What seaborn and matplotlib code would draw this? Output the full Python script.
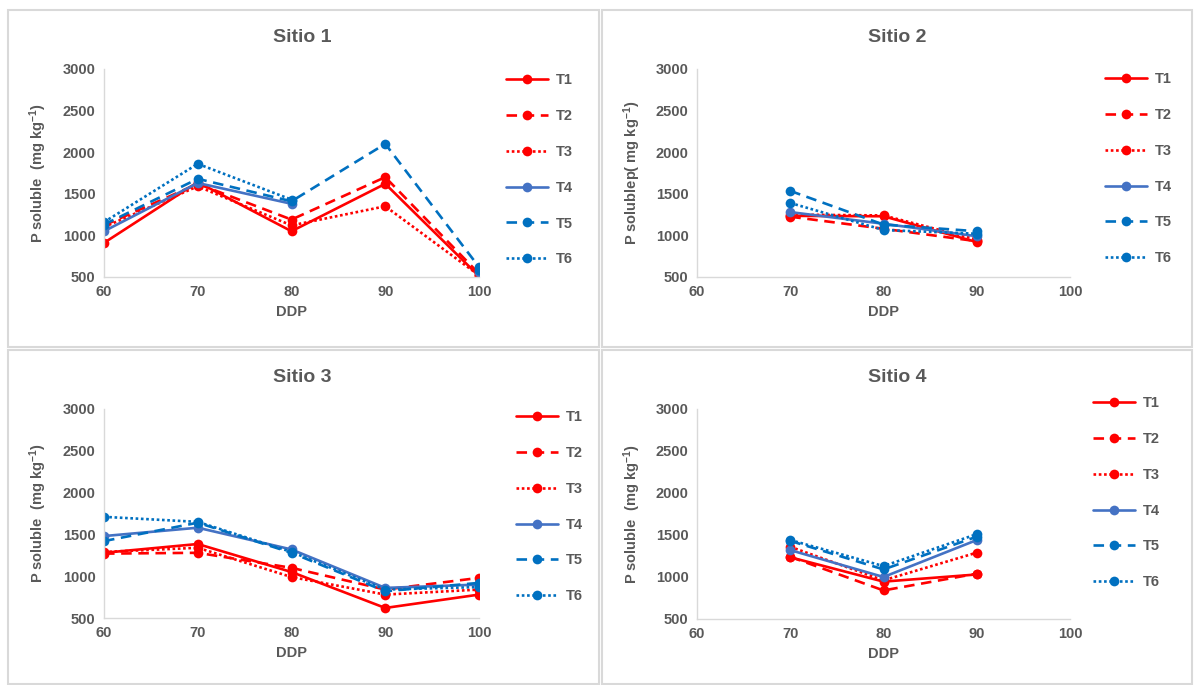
import numpy as np
import pandas as pd
import matplotlib
matplotlib.use("Agg")
import matplotlib.pyplot as plt
from matplotlib.patches import Rectangle
import seaborn as sns

nan = np.nan
ddp = [60, 70, 80, 90, 100]
treatments = ["T1", "T2", "T3", "T4", "T5", "T6"]

sitio1_T1 = [910, 1640, 1050, 1620, 510]
sitio1_T2 = [1120, 1620, 1190, 1700, 540]
sitio1_T3 = [1100, 1590, 1120, 1350, 520]
sitio1_T4 = [1050, 1630, 1380, nan, 560]
sitio1_T5 = [1130, 1680, 1410, 2100, 620]
sitio1_T6 = [1160, 1860, 1430, nan, 590]

sitio2_T1 = [nan, 1235, 1230, 920, nan]
sitio2_T2 = [nan, 1225, 1080, 930, nan]
sitio2_T3 = [nan, 1250, 1240, 950, nan]
sitio2_T4 = [nan, 1280, 1140, 990, nan]
sitio2_T5 = [nan, 1535, 1130, 1050, nan]
sitio2_T6 = [nan, 1390, 1065, 1020, nan]

sitio3_T1 = [1280, 1385, 1050, 620, 780]
sitio3_T2 = [1270, 1280, 1100, 840, 980]
sitio3_T3 = [1290, 1340, 990, 780, 840]
sitio3_T4 = [1480, 1580, 1320, 860, 900]
sitio3_T5 = [1420, 1640, 1280, 820, 920]
sitio3_T6 = [1710, 1650, 1290, 840, 870]

sitio4_T1 = [nan, 1235, 945, 1030, nan]
sitio4_T2 = [nan, 1240, 840, 1040, nan]
sitio4_T3 = [nan, 1360, 960, 1290, nan]
sitio4_T4 = [nan, 1320, 1000, 1440, nan]
sitio4_T5 = [nan, 1430, 1090, 1480, nan]
sitio4_T6 = [nan, 1440, 1130, 1510, nan]

titles = ["Sitio 1", "Sitio 2", "Sitio 3", "Sitio 4"]
ylabels = [r"P soluble  (mg kg$^{-1}$)", r"P solublep( mg kg$^{-1}$)",
           r"P soluble  (mg kg$^{-1}$)", r"P soluble  (mg kg$^{-1}$)"]
xlabel = "DDP"

sites = [
    [sitio1_T1, sitio1_T2, sitio1_T3, sitio1_T4, sitio1_T5, sitio1_T6],
    [sitio2_T1, sitio2_T2, sitio2_T3, sitio2_T4, sitio2_T5, sitio2_T6],
    [sitio3_T1, sitio3_T2, sitio3_T3, sitio3_T4, sitio3_T5, sitio3_T6],
    [sitio4_T1, sitio4_T2, sitio4_T3, sitio4_T4, sitio4_T5, sitio4_T6],
]

sns.set_style("white")
plt.rcParams["font.family"] = ["Liberation Sans", "DejaVu Sans"]
plt.rcParams["mathtext.default"] = "bf"
plt.rcParams["mathtext.fontset"] = "custom"
plt.rcParams["mathtext.bf"] = "Liberation Sans:bold"

RED = "#FF0000"
BLUE1 = "#4472C4"
BLUE2 = "#0070C0"
GRAY = "#595959"
colors = [RED, RED, RED, BLUE1, BLUE2, BLUE2]
styles = ["-", (0, (4, 2.5)), (0, (1, 1)), "-", (0, (4, 2.5)), (0, (1, 1))]

W, H = 1196, 685
fig = plt.figure(figsize=(W / 100, H / 100), dpi=100)

# panel frames (pixels: x0, y0, x1, y1)
frames = [(8, 10, 599, 347), (602, 10, 1192, 347), (8, 350, 599, 684), (602, 350, 1192, 684)]
for (x0, y0, x1, y1) in frames:
    fig.patches.append(Rectangle((x0 / W, 1 - y1 / H), (x1 - x0) / W, (y1 - y0) / H,
                                 transform=fig.transFigure, fill=False,
                                 edgecolor="#D9D9D9", linewidth=1.5))

# axes boxes (pixels: left, top, right, bottom)
axboxes = [(104, 69, 479, 277), (697, 69, 1070, 277), (104, 409, 479, 618), (697, 409, 1070, 619)]
legend_pos = [(506, 73), (1105, 72), (516, 410), (1093, 396)]
title_pos = [(302, 37), (897, 37), (302, 377), (897, 377)]
ylabel_x = [38, 632, 38, 632]

for i, site in enumerate(sites):
    l, t, r, b = axboxes[i]
    ax = fig.add_axes([l / W, 1 - b / H, (r - l) / W, (b - t) / H])
    for k, vals in enumerate(site):
        df = pd.DataFrame({"DDP": ddp, "P": vals})
        # split into contiguous segments so gaps remain gaps
        seg_id = df["P"].isna().cumsum()
        first = True
        for _, seg in df[df["P"].notna()].groupby(seg_id[df["P"].notna()]):
            sns.lineplot(data=seg, x="DDP", y="P", ax=ax, color=colors[k],
                         linestyle=styles[k], linewidth=1.9, marker="o",
                         markersize=7, markeredgewidth=0,
                         label=treatments[k] if first else None,
                         legend=False)
            first = False
    ax.set_xlim(60, 100)
    ax.set_ylim(500, 3000)
    ax.set_xticks(ddp)
    ax.set_yticks([500, 1000, 1500, 2000, 2500, 3000])
    ax.tick_params(length=0, pad=6, labelsize=10.5, labelcolor=GRAY)
    for lab in ax.get_xticklabels() + ax.get_yticklabels():
        lab.set_fontweight("bold")
    for s in ["top", "right"]:
        ax.spines[s].set_visible(False)
    for s in ["left", "bottom"]:
        ax.spines[s].set_color("#D9D9D9")
        ax.spines[s].set_linewidth(1.0)
    ax.set_xlabel(xlabel, fontsize=10.5, fontweight="bold", color=GRAY, labelpad=4)
    ax.set_ylabel("")
    fig.text(ylabel_x[i] / W, 1 - ((t + b) / 2) / H, ylabels[i], rotation=90,
             ha="center", va="center", fontsize=10.5, fontweight="bold", color=GRAY)
    tx, ty = title_pos[i]
    fig.text(tx / W, 1 - ty / H, titles[i], ha="center", va="center",
             fontsize=14, fontweight="bold", color=GRAY)
    handles, labels = ax.get_legend_handles_labels()
    lx, ly = legend_pos[i]
    fig.legend(handles, labels, loc="upper left",
               bbox_to_anchor=(lx / W, 1 - ly / H), bbox_transform=fig.transFigure,
               frameon=False, borderpad=0, borderaxespad=0, handlelength=2.9,
               handletextpad=0.5, labelspacing=1.5,
               prop={"weight": "bold", "size": 10.5}, labelcolor=GRAY)

fig.savefig("out.png", dpi=100, facecolor="white")
